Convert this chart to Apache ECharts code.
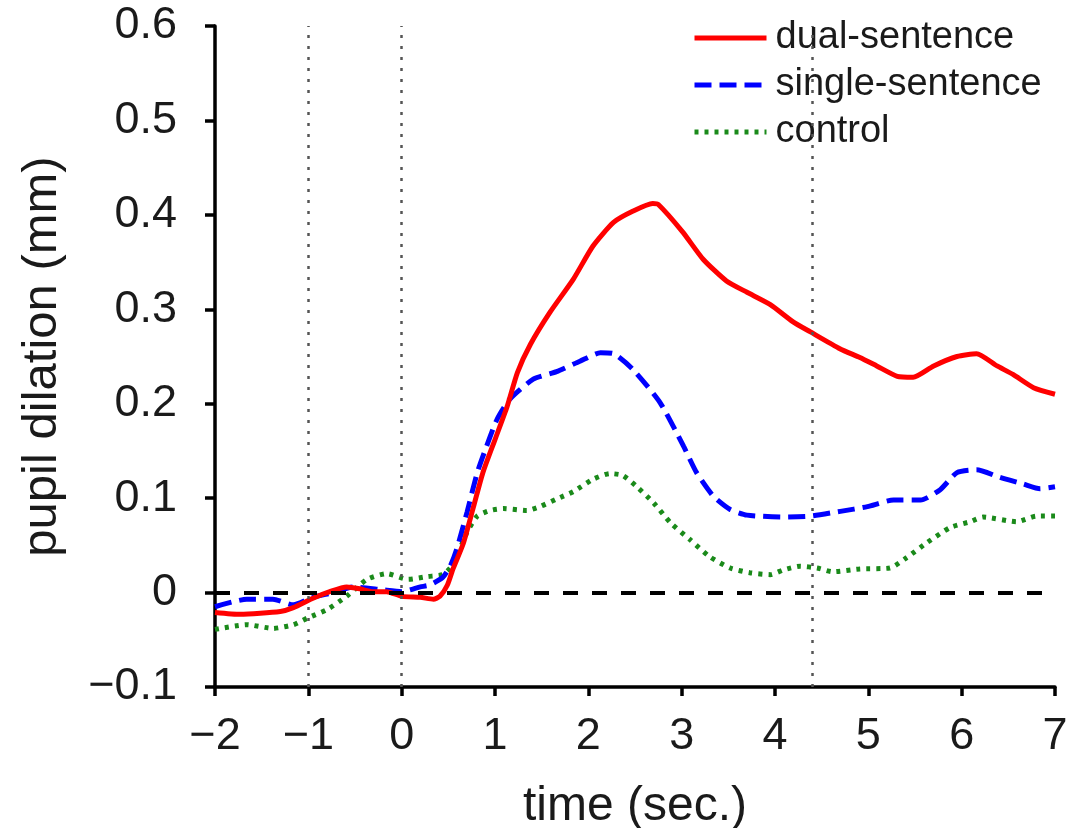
<!DOCTYPE html>
<html>
<head>
<meta charset="utf-8">
<script src="https://cdn.jsdelivr.net/npm/echarts@6/dist/echarts.min.js"></script>
<style>html,body{margin:0;padding:0;background:#fff;}#c{width:1070px;height:828px;}</style>
</head>
<body>
<div id="c"></div>
<script>
// ---- data ----
var seriesNames = ['dual-sentence', 'single-sentence', 'control'];

var dualT = [-2, -1.73, -1.30, -1.16, -0.95, -0.77, -0.59, -0.45, -0.31, -0.16, 0, 0.2, 0.34, 0.41, 0.49, 0.55, 0.66, 0.77, 0.87, 1.0, 1.13, 1.24, 1.38, 1.59, 1.84, 2.05, 2.27, 2.48, 2.69, 2.75, 3.01, 3.23, 3.48, 3.70, 3.95, 4.19, 4.38, 4.70, 4.91, 5.09, 5.31, 5.48, 5.70, 5.95, 6.16, 6.38, 6.55, 6.77, 7.0];
var dualV = [-0.021, -0.023, -0.020, -0.016, -0.006, 0.001, 0.006, 0.004, 0.001, 0.001, -0.004, -0.005, -0.007, -0.004, 0.008, 0.025, 0.052, 0.091, 0.127, 0.162, 0.197, 0.233, 0.263, 0.297, 0.332, 0.367, 0.392, 0.404, 0.412, 0.411, 0.382, 0.353, 0.330, 0.318, 0.305, 0.287, 0.276, 0.258, 0.249, 0.240, 0.229, 0.228, 0.240, 0.250, 0.253, 0.240, 0.231, 0.217, 0.210];

var singleT = [-2, -1.66, -1.38, -1.16, -0.95, -0.73, -0.52, -0.21, 0, 0.2, 0.3, 0.44, 0.52, 0.59, 0.70, 0.81, 0.91, 1.02, 1.16, 1.41, 1.66, 1.91, 2.13, 2.27, 2.48, 2.77, 3.02, 3.16, 3.34, 3.52, 3.70, 4.09, 4.38, 4.70, 4.99, 5.27, 5.56, 5.77, 5.95, 6.16, 6.41, 6.66, 6.84, 7.0];
var singleV = [-0.015, -0.007, -0.007, -0.013, -0.005, 0.0, 0.006, 0.003, 0.001, 0.006, 0.008, 0.016, 0.028, 0.046, 0.085, 0.127, 0.155, 0.183, 0.205, 0.226, 0.234, 0.245, 0.254, 0.253, 0.236, 0.201, 0.155, 0.127, 0.102, 0.088, 0.082, 0.080, 0.081, 0.086, 0.091, 0.098, 0.098, 0.109, 0.127, 0.130, 0.122, 0.115, 0.110, 0.112];

var controlT = [-2, -1.66, -1.38, -1.16, -1.01, -0.80, -0.59, -0.37, -0.16, 0.07, 0.28, 0.44, 0.52, 0.59, 0.70, 0.81, 0.95, 1.09, 1.34, 1.48, 1.66, 1.84, 2.05, 2.23, 2.37, 2.52, 2.70, 2.88, 3.09, 3.30, 3.52, 3.73, 3.95, 4.09, 4.27, 4.45, 4.62, 4.91, 5.23, 5.41, 5.63, 5.88, 6.09, 6.23, 6.59, 6.80, 7.0];
var controlV = [-0.039, -0.034, -0.038, -0.034, -0.027, -0.018, -0.004, 0.014, 0.020, 0.014, 0.017, 0.019, 0.026, 0.038, 0.064, 0.081, 0.087, 0.089, 0.087, 0.091, 0.099, 0.107, 0.120, 0.126, 0.124, 0.112, 0.095, 0.074, 0.056, 0.038, 0.026, 0.021, 0.019, 0.024, 0.028, 0.026, 0.022, 0.025, 0.026, 0.037, 0.053, 0.069, 0.075, 0.080, 0.075, 0.081, 0.081];

var verticalMarkers = [-1, 0, 4.4];
var baselineValue = 0;

var xMin = -2, xMax = 7, xStep = 1;
var yMin = -0.1, yMax = 0.6, yStep = 0.1;

var xTitle = 'time (sec.)';
var yTitle = 'pupil dilation (mm)';

// ---- build ----
function pairs(t, v) { return t.map(function (x, i) { return [x, v[i]]; }); }
function fmt(val) {
  var r = Math.round(val * 10) / 10;
  return String(r).replace('-', '\u2212');
}

var FONT = 'Liberation Sans, Arial, sans-serif';
var chart = echarts.init(document.getElementById('c'), null, { renderer: 'canvas' });

var option = {
  animation: false,
  backgroundColor: '#fff',
  grid: { left: 215, right: 15, top: 26, bottom: 141, containLabel: false, outerBoundsMode: 'none' },
  legend: {
    data: seriesNames,
    orient: 'vertical',
    left: 692,
    top: 19,
    padding: [0, 4, 4, 0],
    backgroundColor: '#fff',
    itemWidth: 72,
    itemHeight: 14,
    itemGap: 9,
    itemStyle: { opacity: 0 },
    lineStyle: { width: 5 },
    textStyle: { fontSize: 38, color: '#1a1a1a', fontFamily: FONT, padding: [0, 0, 0, 4] },
    selectedMode: false
  },
  xAxis: {
    type: 'value',
    min: xMin, max: xMax, interval: xStep,
    name: xTitle,
    nameLocation: 'middle',
    nameGap: 96,
    nameTextStyle: { fontSize: 48, color: '#1a1a1a', fontFamily: FONT },
    axisLine: { onZero: false, lineStyle: { color: '#000', width: 3.5 } },
    axisTick: { show: true, inside: false, length: 9, lineStyle: { color: '#000', width: 3.5 } },
    axisLabel: { fontSize: 45, color: '#1a1a1a', fontFamily: FONT, margin: 27, formatter: fmt },
    splitLine: { show: false }
  },
  yAxis: {
    type: 'value',
    min: yMin, max: yMax, interval: yStep,
    name: yTitle,
    nameLocation: 'middle',
    nameGap: 148,
    nameTextStyle: { fontSize: 49, color: '#1a1a1a', fontFamily: FONT },
    axisLine: { show: true, onZero: false, lineStyle: { color: '#000', width: 3.5 } },
    axisTick: { show: true, inside: false, length: 10, lineStyle: { color: '#000', width: 3.5 } },
    axisLabel: { fontSize: 45, color: '#1a1a1a', fontFamily: FONT, margin: 38, padding: [5, 0, 0, 0], formatter: fmt },
    splitLine: { show: false }
  },
  series: [
    {
      name: 'vrefs', type: 'line', data: [], silent: true, z: 1,
      markLine: {
        silent: true, symbol: ['none', 'none'], label: { show: false }, animation: false,
        lineStyle: { color: '#555', width: 2.5, type: [3, 8] },
        data: verticalMarkers.map(function (x) { return { xAxis: x }; })
      }
    },
    {
      name: 'zref', type: 'line', data: [], silent: true, z: 1,
      markLine: {
        silent: true, symbol: ['none', 'none'], label: { show: false }, animation: false,
        lineStyle: { color: '#000', width: 4, type: [15, 14] },
        data: [{ yAxis: baselineValue }]
      }
    },
    {
      name: seriesNames[0], type: 'line', data: pairs(dualT, dualV), showSymbol: false, symbol: 'none', smooth: 0.2, z: 4,
      lineStyle: { color: '#ff0000', width: 5, type: 'solid' }, itemStyle: { color: '#ff0000' }
    },
    {
      name: seriesNames[1], type: 'line', data: pairs(singleT, singleV), showSymbol: false, symbol: 'none', smooth: 0.2, z: 3,
      lineStyle: { color: '#0000ff', width: 5, type: [17, 8] }, itemStyle: { color: '#0000ff' }
    },
    {
      name: seriesNames[2], type: 'line', data: pairs(controlT, controlV), showSymbol: false, symbol: 'none', smooth: 0.2, z: 2,
      lineStyle: { color: '#1a8a1a', width: 5, type: [4, 6] }, itemStyle: { color: '#1a8a1a' }
    }
  ]
};
chart.setOption(option);
</script>
</body>
</html>
